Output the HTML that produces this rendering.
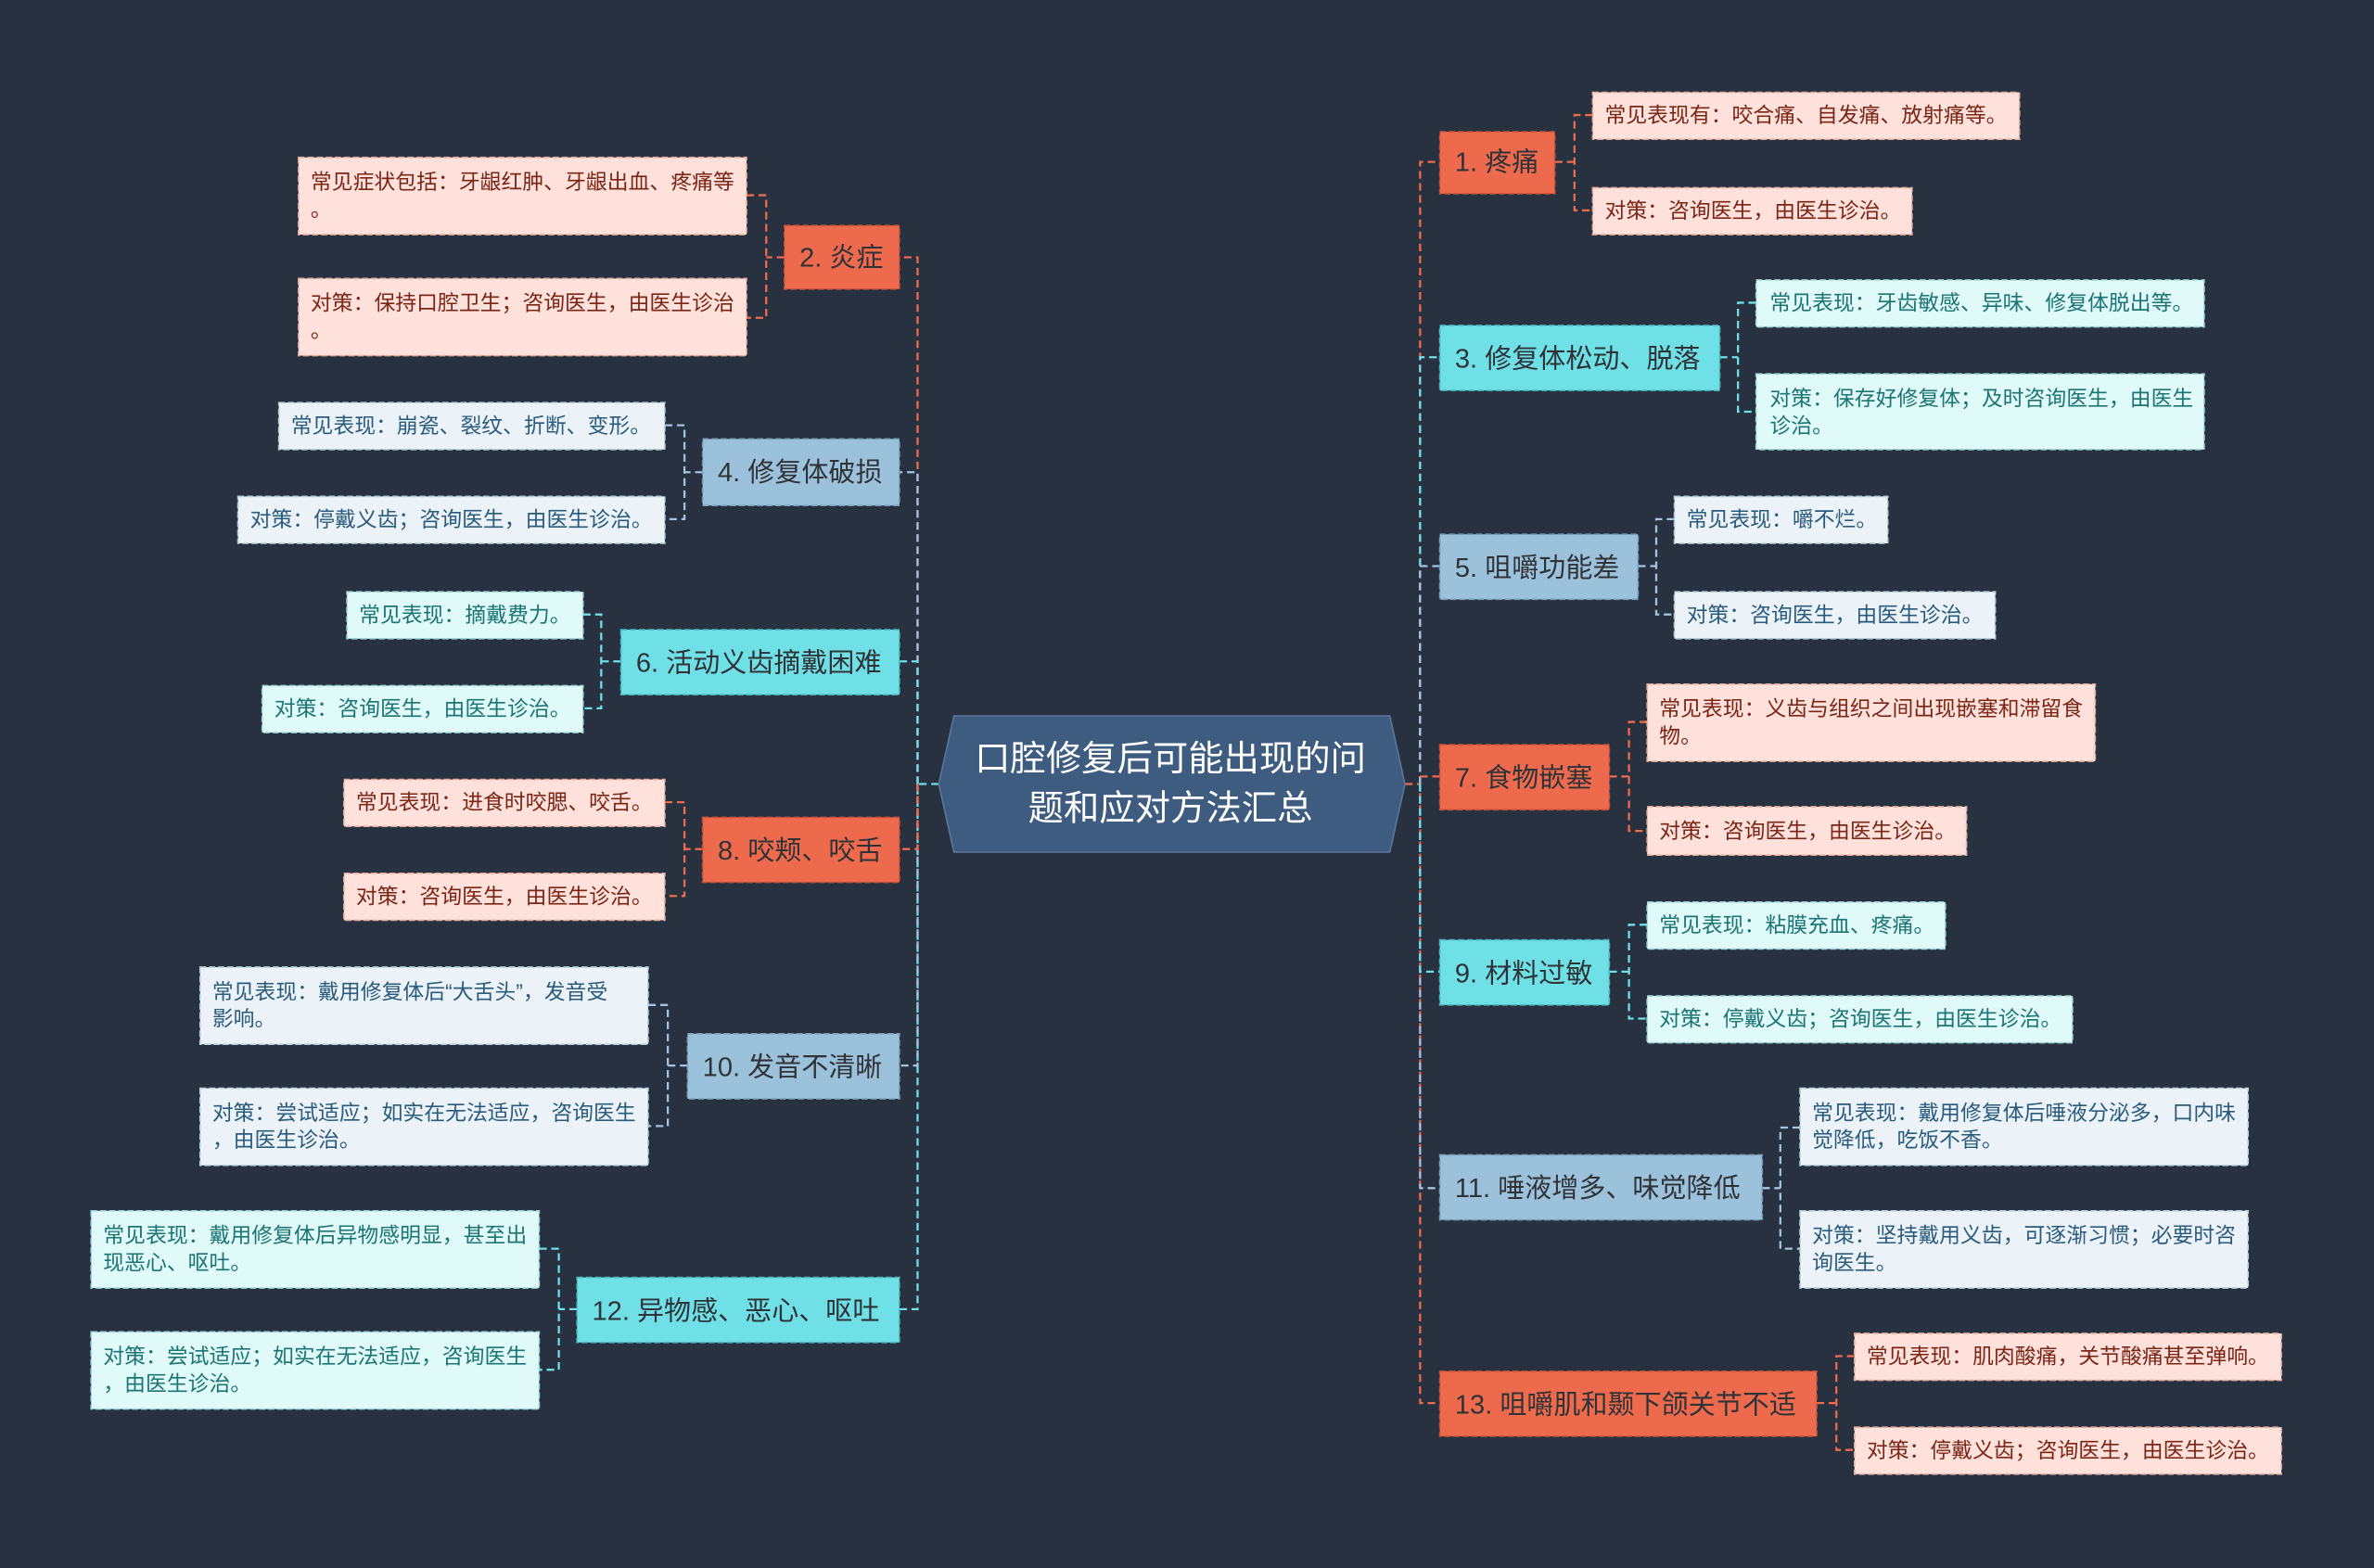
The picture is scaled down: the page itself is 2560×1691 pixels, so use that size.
<!DOCTYPE html>
<html><head><meta charset="utf-8">
<style>
html,body{margin:0;padding:0;background:#283140;}
svg{display:block}
text{font-family:"Liberation Sans","Noto Sans CJK SC",sans-serif;}
.b{font-size:17.8px;fill:#2f3338}
.lp{font-size:14px;fill:#7a2518}
.lb{font-size:14px;fill:#2a5a7c}
.lc{font-size:14px;fill:#1c7474}
.co{stroke:#ee6a4d}.cc{stroke:#6fe0e6}.cb{stroke:#a3c4dc}
line,polyline{fill:none;stroke-width:1.4;stroke-dasharray:5 3}
.fo{fill:#ee6a4d;stroke:#c9533a}.fc{fill:#6fe0e6;stroke:#4cb8bd}.fb{fill:#9cc2db;stroke:#7a9fb8}
.pp{fill:#fde1da;stroke:#e6b0a2}.pb{fill:#ebf3f8;stroke:#b9cfdd}.pc{fill:#e0f9f9;stroke:#9fd8da}
rect{stroke-width:1;stroke-dasharray:4 2}
</style></head>
<body>
<svg width="2560" height="1691" viewBox="0 0 1568 1036" xmlns="http://www.w3.org/2000/svg">
<rect x="0" y="0" width="1568" height="1036" fill="#283140" style="stroke:none"/>

<polyline class="co" points="928,518 938,518 938,927 951,927"/>
<polyline class="cb" points="938,518 938,785 951,785"/>
<polyline class="cc" points="938,518 938,642 951,642"/>
<polyline class="co" points="938,518 938,107 951,107"/>
<polyline class="cc" points="938,518 938,236 951,236"/>
<polyline class="cb" points="938,518 938,374 951,374"/>
<polyline class="co" points="938,513 951,513"/>
<polyline class="cc" points="620,518 606,518 606,865 594,865"/>
<polyline class="cb" points="606,518 606,704 594,704"/>
<polyline class="co" points="606,518 606,561 594,561"/>
<polyline class="co" points="606,518 606,170 594,170"/>
<polyline class="cb" points="606,518 606,312 594,312"/>
<polyline class="cc" points="606,518 606,437 594,437"/>

<polygon points="620,518 630,473 918,473 928,518 918,563 630,563" fill="#3e5c80" stroke="#5a7599" stroke-width="1"/>
<text x="773" y="509" text-anchor="middle" style="font-size:23.5px;fill:#fff">口腔修复后可能出现的问</text>
<text x="773" y="542" text-anchor="middle" style="font-size:23.5px;fill:#fff">题和应对方法汇总</text>

<polyline class="co" points="1027,107 1040,107"/><polyline class="co" points="1052,76 1040,76 1040,139 1052,139"/>
<rect class="fo" x="951" y="87" width="76" height="41"/><text class="b" x="961" y="113">1. 疼痛</text>
<rect class="pp" x="1052" y="61" width="282" height="31"/><text class="lp" x="1060" y="81">常见表现有：咬合痛、自发痛、放射痛等。</text>
<rect class="pp" x="1052" y="124" width="211" height="31"/><text class="lp" x="1060" y="144">对策：咨询医生，由医生诊治。</text>

<polyline class="cc" points="1136,236 1148,236"/><polyline class="cc" points="1160,200 1148,200 1148,272 1160,272"/>
<rect class="fc" x="951" y="215" width="185" height="43"/><text class="b" x="961" y="243">3. 修复体松动、脱落</text>
<rect class="pc" x="1160" y="185" width="296" height="31"/><text class="lc" x="1169" y="205">常见表现：牙齿敏感、异味、修复体脱出等。</text>
<rect class="pc" x="1160" y="247" width="296" height="50"/><text class="lc" x="1169" y="268">对策：保存好修复体；及时咨询医生，由医生</text><text class="lc" x="1169" y="286">诊治。</text>

<polyline class="cb" points="1082,374 1094,374"/><polyline class="cb" points="1106,343 1094,343 1094,406 1106,406"/>
<rect class="fb" x="951" y="353" width="131" height="43"/><text class="b" x="961" y="381">5. 咀嚼功能差</text>
<rect class="pb" x="1106" y="328" width="141" height="31"/><text class="lb" x="1114" y="348">常见表现：嚼不烂。</text>
<rect class="pb" x="1106" y="391" width="212" height="31"/><text class="lb" x="1114" y="411">对策：咨询医生，由医生诊治。</text>

<polyline class="co" points="1063,513 1076,513"/><polyline class="co" points="1088,477 1076,477 1076,549 1088,549"/>
<rect class="fo" x="951" y="492" width="112" height="43"/><text class="b" x="961" y="520">7. 食物嵌塞</text>
<rect class="pp" x="1088" y="452" width="296" height="51"/><text class="lp" x="1096" y="473">常见表现：义齿与组织之间出现嵌塞和滞留食</text><text class="lp" x="1096" y="491">物。</text>
<rect class="pp" x="1088" y="533" width="211" height="32"/><text class="lp" x="1096" y="554">对策：咨询医生，由医生诊治。</text>

<polyline class="cc" points="1063,642 1076,642"/><polyline class="cc" points="1088,611 1076,611 1076,673 1088,673"/>
<rect class="fc" x="951" y="621" width="112" height="43"/><text class="b" x="961" y="649">9. 材料过敏</text>
<rect class="pc" x="1088" y="596" width="197" height="31"/><text class="lc" x="1096" y="616">常见表现：粘膜充血、疼痛。</text>
<rect class="pc" x="1088" y="658" width="281" height="31"/><text class="lc" x="1096" y="678">对策：停戴义齿；咨询医生，由医生诊治。</text>

<polyline class="cb" points="1164,785 1176,785"/><polyline class="cb" points="1189,745 1176,745 1176,825 1189,825"/>
<rect class="fb" x="951" y="763" width="213" height="43"/><text class="b" x="961" y="791">11. 唾液增多、味觉降低</text>
<rect class="pb" x="1189" y="719" width="296" height="51"/><text class="lb" x="1197" y="740">常见表现：戴用修复体后唾液分泌多，口内味</text><text class="lb" x="1197" y="758">觉降低，吃饭不香。</text>
<rect class="pb" x="1189" y="800" width="296" height="51"/><text class="lb" x="1197" y="821">对策：坚持戴用义齿，可逐渐习惯；必要时咨</text><text class="lb" x="1197" y="839">询医生。</text>

<polyline class="co" points="1200,927 1213,927"/><polyline class="co" points="1225,896 1213,896 1213,958 1225,958"/>
<rect class="fo" x="951" y="906" width="249" height="43"/><text class="b" x="961" y="934">13. 咀嚼肌和颞下颌关节不适</text>
<rect class="pp" x="1225" y="881" width="282" height="31"/><text class="lp" x="1233" y="901">常见表现：肌肉酸痛，关节酸痛甚至弹响。</text>
<rect class="pp" x="1225" y="943" width="282" height="31"/><text class="lp" x="1233" y="963">对策：停戴义齿；咨询医生，由医生诊治。</text>

<polyline class="co" points="518,170 506,170"/><polyline class="co" points="493,129 506,129 506,210 493,210"/>
<rect class="fo" x="518" y="149" width="76" height="42"/><text class="b" x="528" y="176">2. 炎症</text>
<rect class="pp" x="197" y="104" width="296" height="51"/><text class="lp" x="205" y="125">常见症状包括：牙龈红肿、牙龈出血、疼痛等</text><text class="lp" x="205" y="143">。</text>
<rect class="pp" x="197" y="184" width="296" height="51"/><text class="lp" x="205" y="205">对策：保持口腔卫生；咨询医生，由医生诊治</text><text class="lp" x="205" y="223">。</text>

<polyline class="cb" points="464,312 452,312"/><polyline class="cb" points="439,281 452,281 452,343 439,343"/>
<rect class="fb" x="464" y="290" width="130" height="44"/><text class="b" x="474" y="318">4. 修复体破损</text>
<rect class="pb" x="184" y="266" width="255" height="31"/><text class="lb" x="192" y="286">常见表现：崩瓷、裂纹、折断、变形。</text>
<rect class="pb" x="157" y="328" width="282" height="31"/><text class="lb" x="165" y="348">对策：停戴义齿；咨询医生，由医生诊治。</text>

<polyline class="cc" points="410,437 397,437"/><polyline class="cc" points="385,406 397,406 397,468 385,468"/>
<rect class="fc" x="410" y="416" width="184" height="43"/><text class="b" x="420" y="444">6. 活动义齿摘戴困难</text>
<rect class="pc" x="229" y="391" width="156" height="31"/><text class="lc" x="237" y="411">常见表现：摘戴费力。</text>
<rect class="pc" x="173" y="453" width="212" height="31"/><text class="lc" x="181" y="473">对策：咨询医生，由医生诊治。</text>

<polyline class="co" points="464,561 452,561"/><polyline class="co" points="439,530 452,530 452,592 439,592"/>
<rect class="fo" x="464" y="540" width="130" height="43"/><text class="b" x="474" y="568">8. 咬颊、咬舌</text>
<rect class="pp" x="227" y="515" width="212" height="31"/><text class="lp" x="235" y="535">常见表现：进食时咬腮、咬舌。</text>
<rect class="pp" x="227" y="577" width="212" height="31"/><text class="lp" x="235" y="597">对策：咨询医生，由医生诊治。</text>

<polyline class="cb" points="454,704 441,704"/><polyline class="cb" points="428,664 441,664 441,744 428,744"/>
<rect class="fb" x="454" y="683" width="140" height="43"/><text class="b" x="464" y="711">10. 发音不清晰</text>
<rect class="pb" x="132" y="639" width="296" height="51"/><text class="lb" x="140" y="660">常见表现：戴用修复体后“大舌头”，发音受</text><text class="lb" x="140" y="678">影响。</text>
<rect class="pb" x="132" y="719" width="296" height="51"/><text class="lb" x="140" y="740">对策：尝试适应；如实在无法适应，咨询医生</text><text class="lb" x="140" y="758">，由医生诊治。</text>

<polyline class="cc" points="381,865 369,865"/><polyline class="cc" points="356,825 369,825 369,905 356,905"/>
<rect class="fc" x="381" y="844" width="213" height="43"/><text class="b" x="391" y="872">12. 异物感、恶心、呕吐</text>
<rect class="pc" x="60" y="800" width="296" height="51"/><text class="lc" x="68" y="821">常见表现：戴用修复体后异物感明显，甚至出</text><text class="lc" x="68" y="839">现恶心、呕吐。</text>
<rect class="pc" x="60" y="880" width="296" height="51"/><text class="lc" x="68" y="901">对策：尝试适应；如实在无法适应，咨询医生</text><text class="lc" x="68" y="919">，由医生诊治。</text>
</svg>
</body></html>
